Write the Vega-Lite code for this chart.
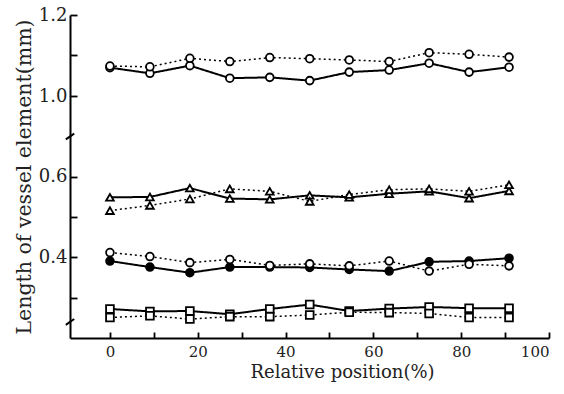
{
  "$schema": "https://vega.github.io/schema/vega-lite/v6.json",
  "width": 479,
  "height": 323,
  "autosize": {"type": "none"},
  "padding": {"left": 70, "top": 15, "right": 15, "bottom": 56},
  "background": "white",
  "config": {
    "view": {"stroke": null},
    "axis": {
      "domainColor": "black",
      "domainWidth": 2,
      "tickColor": "black",
      "tickWidth": 1.8,
      "labelColor": "#222",
      "labelFont": "DejaVu Serif",
      "titleFont": "DejaVu Serif",
      "titleFontWeight": "normal",
      "titleColor": "#222",
      "grid": false
    }
  },
  "data": {
    "values": [
      {"s": "c1s", "style": "solid", "shape": "circle", "fill": "open", "x": 0, "y": 1.070},
      {"s": "c1s", "style": "solid", "shape": "circle", "fill": "open", "x": 9.1, "y": 1.056},
      {"s": "c1s", "style": "solid", "shape": "circle", "fill": "open", "x": 18.2, "y": 1.075},
      {"s": "c1s", "style": "solid", "shape": "circle", "fill": "open", "x": 27.3, "y": 1.044},
      {"s": "c1s", "style": "solid", "shape": "circle", "fill": "open", "x": 36.4, "y": 1.046},
      {"s": "c1s", "style": "solid", "shape": "circle", "fill": "open", "x": 45.5, "y": 1.038},
      {"s": "c1s", "style": "solid", "shape": "circle", "fill": "open", "x": 54.5, "y": 1.059},
      {"s": "c1s", "style": "solid", "shape": "circle", "fill": "open", "x": 63.6, "y": 1.064},
      {"s": "c1s", "style": "solid", "shape": "circle", "fill": "open", "x": 72.7, "y": 1.081},
      {"s": "c1s", "style": "solid", "shape": "circle", "fill": "open", "x": 81.8, "y": 1.059},
      {"s": "c1s", "style": "solid", "shape": "circle", "fill": "open", "x": 90.9, "y": 1.071},
      {"s": "c1d", "style": "dotted", "shape": "circle", "fill": "open", "x": 0, "y": 1.074},
      {"s": "c1d", "style": "dotted", "shape": "circle", "fill": "open", "x": 9.1, "y": 1.072},
      {"s": "c1d", "style": "dotted", "shape": "circle", "fill": "open", "x": 18.2, "y": 1.093},
      {"s": "c1d", "style": "dotted", "shape": "circle", "fill": "open", "x": 27.3, "y": 1.085},
      {"s": "c1d", "style": "dotted", "shape": "circle", "fill": "open", "x": 36.4, "y": 1.095},
      {"s": "c1d", "style": "dotted", "shape": "circle", "fill": "open", "x": 45.5, "y": 1.092},
      {"s": "c1d", "style": "dotted", "shape": "circle", "fill": "open", "x": 54.5, "y": 1.089},
      {"s": "c1d", "style": "dotted", "shape": "circle", "fill": "open", "x": 63.6, "y": 1.085},
      {"s": "c1d", "style": "dotted", "shape": "circle", "fill": "open", "x": 72.7, "y": 1.107},
      {"s": "c1d", "style": "dotted", "shape": "circle", "fill": "open", "x": 81.8, "y": 1.103},
      {"s": "c1d", "style": "dotted", "shape": "circle", "fill": "open", "x": 90.9, "y": 1.096},
      {"s": "t1s", "style": "solid", "shape": "triangle-up", "fill": "open", "x": 0, "y": 0.549},
      {"s": "t1s", "style": "solid", "shape": "triangle-up", "fill": "open", "x": 9.1, "y": 0.550},
      {"s": "t1s", "style": "solid", "shape": "triangle-up", "fill": "open", "x": 18.2, "y": 0.572},
      {"s": "t1s", "style": "solid", "shape": "triangle-up", "fill": "open", "x": 27.3, "y": 0.546},
      {"s": "t1s", "style": "solid", "shape": "triangle-up", "fill": "open", "x": 36.4, "y": 0.544},
      {"s": "t1s", "style": "solid", "shape": "triangle-up", "fill": "open", "x": 45.5, "y": 0.554},
      {"s": "t1s", "style": "solid", "shape": "triangle-up", "fill": "open", "x": 54.5, "y": 0.549},
      {"s": "t1s", "style": "solid", "shape": "triangle-up", "fill": "open", "x": 63.6, "y": 0.558},
      {"s": "t1s", "style": "solid", "shape": "triangle-up", "fill": "open", "x": 72.7, "y": 0.564},
      {"s": "t1s", "style": "solid", "shape": "triangle-up", "fill": "open", "x": 81.8, "y": 0.547},
      {"s": "t1s", "style": "solid", "shape": "triangle-up", "fill": "open", "x": 90.9, "y": 0.565},
      {"s": "t1d", "style": "dotted", "shape": "triangle-up", "fill": "open", "x": 0, "y": 0.516},
      {"s": "t1d", "style": "dotted", "shape": "triangle-up", "fill": "open", "x": 9.1, "y": 0.529},
      {"s": "t1d", "style": "dotted", "shape": "triangle-up", "fill": "open", "x": 18.2, "y": 0.545},
      {"s": "t1d", "style": "dotted", "shape": "triangle-up", "fill": "open", "x": 27.3, "y": 0.570},
      {"s": "t1d", "style": "dotted", "shape": "triangle-up", "fill": "open", "x": 36.4, "y": 0.564},
      {"s": "t1d", "style": "dotted", "shape": "triangle-up", "fill": "open", "x": 45.5, "y": 0.539},
      {"s": "t1d", "style": "dotted", "shape": "triangle-up", "fill": "open", "x": 54.5, "y": 0.556},
      {"s": "t1d", "style": "dotted", "shape": "triangle-up", "fill": "open", "x": 63.6, "y": 0.568},
      {"s": "t1d", "style": "dotted", "shape": "triangle-up", "fill": "open", "x": 72.7, "y": 0.570},
      {"s": "t1d", "style": "dotted", "shape": "triangle-up", "fill": "open", "x": 81.8, "y": 0.564},
      {"s": "t1d", "style": "dotted", "shape": "triangle-up", "fill": "open", "x": 90.9, "y": 0.580},
      {"s": "c2s", "style": "solid", "shape": "circle", "fill": "filled", "x": 0, "y": 0.391},
      {"s": "c2s", "style": "solid", "shape": "circle", "fill": "filled", "x": 9.1, "y": 0.376},
      {"s": "c2s", "style": "solid", "shape": "circle", "fill": "filled", "x": 18.2, "y": 0.362},
      {"s": "c2s", "style": "solid", "shape": "circle", "fill": "filled", "x": 27.3, "y": 0.376},
      {"s": "c2s", "style": "solid", "shape": "circle", "fill": "filled", "x": 36.4, "y": 0.376},
      {"s": "c2s", "style": "solid", "shape": "circle", "fill": "filled", "x": 45.5, "y": 0.375},
      {"s": "c2s", "style": "solid", "shape": "circle", "fill": "filled", "x": 54.5, "y": 0.370},
      {"s": "c2s", "style": "solid", "shape": "circle", "fill": "filled", "x": 63.6, "y": 0.366},
      {"s": "c2s", "style": "solid", "shape": "circle", "fill": "filled", "x": 72.7, "y": 0.389},
      {"s": "c2s", "style": "solid", "shape": "circle", "fill": "filled", "x": 81.8, "y": 0.391},
      {"s": "c2s", "style": "solid", "shape": "circle", "fill": "filled", "x": 90.9, "y": 0.398},
      {"s": "c2d", "style": "dotted", "shape": "circle", "fill": "open", "x": 0, "y": 0.412},
      {"s": "c2d", "style": "dotted", "shape": "circle", "fill": "open", "x": 9.1, "y": 0.402},
      {"s": "c2d", "style": "dotted", "shape": "circle", "fill": "open", "x": 18.2, "y": 0.387},
      {"s": "c2d", "style": "dotted", "shape": "circle", "fill": "open", "x": 27.3, "y": 0.395},
      {"s": "c2d", "style": "dotted", "shape": "circle", "fill": "open", "x": 36.4, "y": 0.380},
      {"s": "c2d", "style": "dotted", "shape": "circle", "fill": "open", "x": 45.5, "y": 0.384},
      {"s": "c2d", "style": "dotted", "shape": "circle", "fill": "open", "x": 54.5, "y": 0.379},
      {"s": "c2d", "style": "dotted", "shape": "circle", "fill": "open", "x": 63.6, "y": 0.391},
      {"s": "c2d", "style": "dotted", "shape": "circle", "fill": "open", "x": 72.7, "y": 0.366},
      {"s": "c2d", "style": "dotted", "shape": "circle", "fill": "open", "x": 81.8, "y": 0.383},
      {"s": "c2d", "style": "dotted", "shape": "circle", "fill": "open", "x": 90.9, "y": 0.379},
      {"s": "q1s", "style": "solid", "shape": "square", "fill": "open", "x": 0, "y": 0.272},
      {"s": "q1s", "style": "solid", "shape": "square", "fill": "open", "x": 9.1, "y": 0.266},
      {"s": "q1s", "style": "solid", "shape": "square", "fill": "open", "x": 18.2, "y": 0.267},
      {"s": "q1s", "style": "solid", "shape": "square", "fill": "open", "x": 27.3, "y": 0.259},
      {"s": "q1s", "style": "solid", "shape": "square", "fill": "open", "x": 36.4, "y": 0.272},
      {"s": "q1s", "style": "solid", "shape": "square", "fill": "open", "x": 45.5, "y": 0.283},
      {"s": "q1s", "style": "solid", "shape": "square", "fill": "open", "x": 54.5, "y": 0.267},
      {"s": "q1s", "style": "solid", "shape": "square", "fill": "open", "x": 63.6, "y": 0.273},
      {"s": "q1s", "style": "solid", "shape": "square", "fill": "open", "x": 72.7, "y": 0.277},
      {"s": "q1s", "style": "solid", "shape": "square", "fill": "open", "x": 81.8, "y": 0.274},
      {"s": "q1s", "style": "solid", "shape": "square", "fill": "open", "x": 90.9, "y": 0.274},
      {"s": "q1d", "style": "dotted", "shape": "square", "fill": "open", "x": 0, "y": 0.251},
      {"s": "q1d", "style": "dotted", "shape": "square", "fill": "open", "x": 9.1, "y": 0.255},
      {"s": "q1d", "style": "dotted", "shape": "square", "fill": "open", "x": 18.2, "y": 0.247},
      {"s": "q1d", "style": "dotted", "shape": "square", "fill": "open", "x": 27.3, "y": 0.253},
      {"s": "q1d", "style": "dotted", "shape": "square", "fill": "open", "x": 36.4, "y": 0.253},
      {"s": "q1d", "style": "dotted", "shape": "square", "fill": "open", "x": 45.5, "y": 0.257},
      {"s": "q1d", "style": "dotted", "shape": "square", "fill": "open", "x": 54.5, "y": 0.264},
      {"s": "q1d", "style": "dotted", "shape": "square", "fill": "open", "x": 63.6, "y": 0.263},
      {"s": "q1d", "style": "dotted", "shape": "square", "fill": "open", "x": 72.7, "y": 0.261},
      {"s": "q1d", "style": "dotted", "shape": "square", "fill": "open", "x": 81.8, "y": 0.251},
      {"s": "q1d", "style": "dotted", "shape": "square", "fill": "open", "x": 90.9, "y": 0.251}
    ]
  },
  "layer": [
    {
      "mark": {"type": "line", "color": "black"},
      "encoding": {
        "x": {
          "field": "x", "type": "quantitative",
          "scale": {"domain": [-9.1, 100], "nice": false, "zero": false},
          "axis": {
            "values": [0, 10, 20, 30, 40, 50, 60, 70, 80, 90, 100],
            "labelExpr": "datum.value % 20 === 0 ? datum.label : ''",
            "tickSize": -6,
            "labelPadding": 12,
            "labelFontSize": 15,
            "title": "Relative position(%)",
            "titleFontSize": 18,
            "titleAnchor": "middle",
            "titleX": 272,
            "titlePadding": 4
          }
        },
        "y": {
          "field": "y", "type": "quantitative",
          "scale": {"domain": [0.2, 0.7, 0.9, 1.2], "range": [323, 121.5, 121.5, 0], "nice": false, "zero": false},
          "axis": {
            "values": [0.3, 0.4, 0.5, 0.6, 1.0, 1.1, 1.2],
            "labelExpr": "indexof([0.4, 0.6, 1, 1.2], datum.value) >= 0 ? format(datum.value, '.1f') : ''",
            "tickSize": -7,
            "labelPadding": 10,
            "labelFontSize": 18,
            "title": "Length of vessel element(mm)",
            "titleFontSize": 20.5,
            "titlePadding": 4
          }
        },
        "detail": {"field": "s"},
        "strokeDash": {"field": "style", "scale": {"domain": ["solid", "dotted"], "range": [[1, 0], [2, 3]]}, "legend": null},
        "strokeWidth": {"field": "style", "scale": {"domain": ["solid", "dotted"], "range": [2, 1.5]}, "legend": null}
      }
    },
    {
      "mark": {"type": "point", "filled": true, "stroke": "black", "strokeWidth": 1.8, "opacity": 1, "size": 60},
      "encoding": {
        "x": {"field": "x", "type": "quantitative"},
        "y": {"field": "y", "type": "quantitative"},
        "shape": {"field": "shape", "type": "nominal", "scale": {"domain": ["circle", "triangle-up", "square"], "range": ["circle", "triangle-up", "square"]}, "legend": null},
        "fill": {"field": "fill", "type": "nominal", "scale": {"domain": ["open", "filled"], "range": ["white", "black"]}, "legend": null}
      }
    },
    {
      "data": {"values": [{"x": -9.1, "y": 0.8}, {"x": -9.1, "y": 0.24}]},
      "mark": {"type": "point", "shape": "M -1 0.7 L 1 -0.7", "size": 70, "stroke": "black", "strokeWidth": 2, "opacity": 1},
      "encoding": {
        "x": {"field": "x", "type": "quantitative"},
        "y": {"field": "y", "type": "quantitative"}
      }
    }
  ]
}
